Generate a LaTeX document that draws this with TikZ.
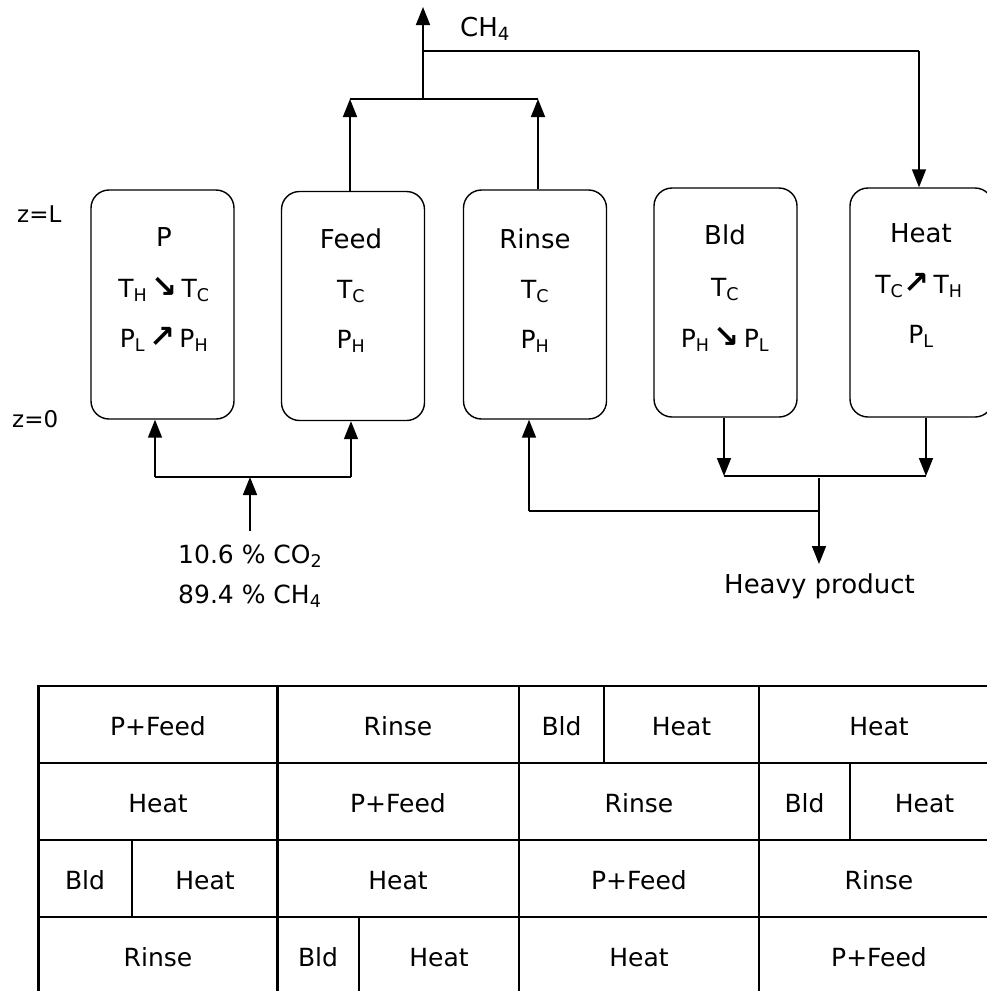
\documentclass[tikz,border=0pt]{standalone}
\usepackage{fontspec}
\setmainfont{DejaVu Sans}
\usetikzlibrary{arrows.meta}
\newcommand{\dn}{{\fontsize{31}{31}\selectfont\bfseries ↘}}
\newcommand{\up}{{\fontsize{31}{31}\selectfont\bfseries ↗}}
\begin{document}
\begin{tikzpicture}[x=1pt,y=-1pt,
  box/.style={draw, line width=1.4pt, rounded corners=18pt, minimum width=143pt, minimum height=229pt, inner sep=0pt},
  ttl/.style={anchor=base, inner sep=0pt, font=\fontsize{26}{31}\selectfont},
  row/.style={anchor=base, inner sep=0pt, font=\fontsize{25}{30}\selectfont},
  lbl/.style={anchor=base west, inner sep=0pt, font=\fontsize{25}{30}\selectfont},
  cell/.style={anchor=base, inner sep=0pt, font=\fontsize{25}{30}\selectfont},
  conn/.style={line width=1.6pt, -{Triangle[width=14pt,length=18pt]}},
  bar/.style={line width=2.5pt},
  grid/.style={line width=2.4pt}
]
\useasboundingbox (0,0) rectangle (986,991);

% columns (boxes)
\node[box] (bP) at (162.5,304.5) {};
\node[box] (bF) at (353,306) {};
\node[box] (bR) at (535,304.5) {};
\node[box] (bB) at (725.5,302.5) {};
\node[box] (bH) at (921.5,302.5) {};

% box texts
\node[ttl] (tP1) at (164,246) {P};
\node[row] (tP2) at (164,297) {T\textsubscript{H}\,\dn\,T\textsubscript{C}};
\node[row] (tP3) at (164,347) {P\textsubscript{L}\,\up\,P\textsubscript{H}};
\node[ttl] (tF1) at (351,248) {Feed};
\node[row] (tF2) at (351,298) {T\textsubscript{C}};
\node[row] (tF3) at (351,348) {P\textsubscript{H}};
\node[ttl] (tR1) at (535,248) {Rinse};
\node[row] (tR2) at (535,298) {T\textsubscript{C}};
\node[row] (tR3) at (535,348) {P\textsubscript{H}};
\node[ttl] (tB1) at (725,244) {Bld};
\node[row] (tB2) at (725,296) {T\textsubscript{C}};
\node[row] (tB3) at (725,347) {P\textsubscript{H}\,\dn\,P\textsubscript{L}};
\node[ttl] (tH1) at (921,242) {Heat};
\node[row] (tH2) at (919,293) {T\textsubscript{C}\up\,T\textsubscript{H}};
\node[row] (tH3) at (921,343) {P\textsubscript{L}};

% side labels
\node[anchor=base west, inner sep=0pt, font=\fontsize{23}{28}\selectfont] (zL) at (17,222) {z=L};
\node[anchor=base west, inner sep=0pt, font=\fontsize{23}{28}\selectfont] (z0) at (12,427) {z=0};

% top: light product
\coordinate (jl) at (350,99);
\coordinate (jr) at (538,99);
\coordinate (jm) at (423,99);
\coordinate (jc) at (423,51);
\coordinate (out) at (423,7);
\coordinate (jh) at (919,51);
\node[anchor=base west, inner sep=0pt, font=\fontsize{26}{31}\selectfont] (ch4) at (460,36) {CH\textsubscript{4}};
\draw[conn] (jl |- bF.north) -- (jl);
\draw[conn] (jr |- bR.north) -- (jr);
\draw[bar] (jl) -- (jr);
\draw[conn] (jm) -- (out);
\draw[bar] (jc) -- (jh);
\draw[conn] (jh) -- (jh |- bH.north);

% bottom left: feed
\coordinate (fl) at (155,477);
\coordinate (fr) at (351,477);
\coordinate (fm) at (250,477);
\coordinate (fin) at (250,531);
\draw[conn] (fl) -- (fl |- bP.south);
\draw[conn] (fr) -- (fr |- bF.south);
\draw[bar] (fl) -- (fr);
\draw[conn] (fin) -- (fm);
\node[lbl] (feed1) at (178,563) {10.6 \% CO\textsubscript{2}};
\node[lbl] (feed2) at (178,603) {89.4 \% CH\textsubscript{4}};

% bottom right: heavy product
\coordinate (hl) at (724,476);
\coordinate (hr) at (926,476);
\coordinate (hm) at (819,478);
\coordinate (hx) at (819,511);
\coordinate (rx) at (529,511);
\coordinate (hp) at (819,564);
\draw[conn] (hl |- bB.south) -- (hl);
\draw[conn] (hr |- bH.south) -- (hr);
\draw[bar] (hl) -- (hr);
\draw[conn] (hm) -- (hp);
\draw[bar] (hx) -- (rx);
\draw[conn] (rx) -- (rx |- bR.south);
\node[anchor=base west, inner sep=0pt, font=\fontsize{26}{31}\selectfont] (heavy) at (724,593) {Heavy product};

% schedule table
\draw[grid] (38.5,686) -- (999,686);
\draw[grid] (38.5,763) -- (999,763);
\draw[grid] (38.5,840) -- (999,840);
\draw[grid] (38.5,917) -- (999,917);
\draw[grid] (38.5,685) -- (38.5,995);
\draw[grid] (277.5,685) -- (277.5,995);
\draw[grid] (519,685) -- (519,995);
\draw[grid] (759,685) -- (759,995);
\draw[grid] (604,686) -- (604,763);
\draw[grid] (850,763) -- (850,840);
\draw[grid] (132,840) -- (132,917);
\draw[grid] (359,917) -- (359,995);

\node[cell] (c11) at (158,735) {P+Feed};
\node[cell] (c12) at (398,735) {Rinse};
\node[cell] (c13) at (561.5,735) {Bld};
\node[cell] (c14) at (681.5,735) {Heat};
\node[cell] (c15) at (879,735) {Heat};

\node[cell] (c21) at (158,812) {Heat};
\node[cell] (c22) at (398,812) {P+Feed};
\node[cell] (c23) at (639,812) {Rinse};
\node[cell] (c24) at (804.5,812) {Bld};
\node[cell] (c25) at (924.5,812) {Heat};

\node[cell] (c31) at (85,889) {Bld};
\node[cell] (c32) at (205,889) {Heat};
\node[cell] (c33) at (398,889) {Heat};
\node[cell] (c34) at (639,889) {P+Feed};
\node[cell] (c35) at (879,889) {Rinse};

\node[cell] (c41) at (158,966) {Rinse};
\node[cell] (c42) at (318,966) {Bld};
\node[cell] (c43) at (439,966) {Heat};
\node[cell] (c44) at (639,966) {Heat};
\node[cell] (c45) at (879,966) {P+Feed};
\end{tikzpicture}
\end{document}
